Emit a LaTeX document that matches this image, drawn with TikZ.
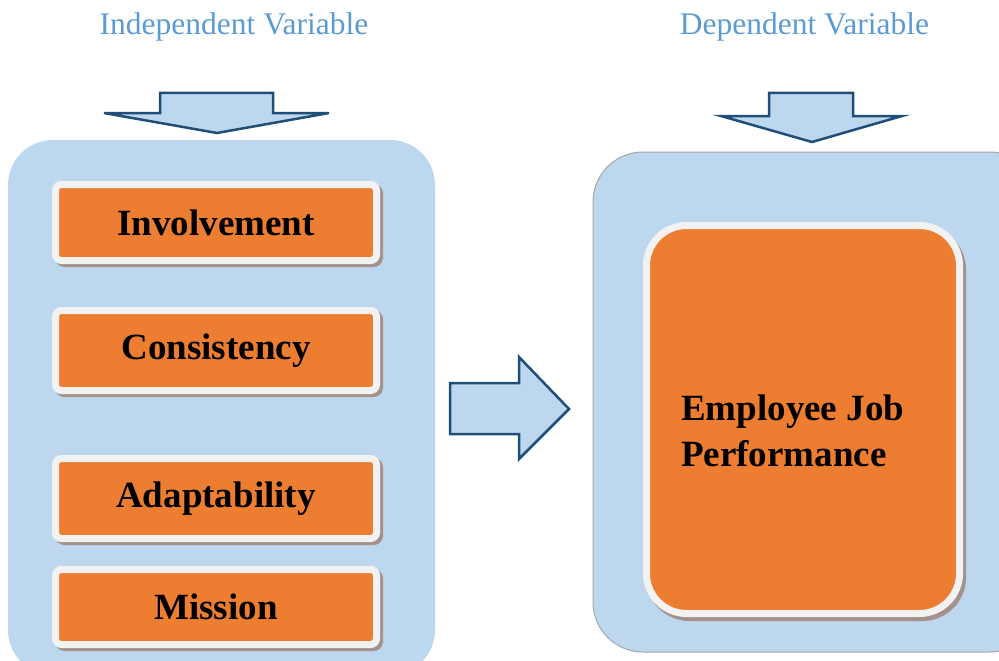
\documentclass[tikz,border=0pt]{standalone}
\usepackage{fontspec}
\setmainfont{Liberation Serif}
\usetikzlibrary{shadows}
\definecolor{panelc}{HTML}{BDD7EE}
\definecolor{orangec}{HTML}{ED7D31}
\definecolor{rimc}{HTML}{F2F2F2}
\definecolor{shadc}{HTML}{A3918A}
\definecolor{arrowc}{HTML}{1F4E79}
\definecolor{titlec}{HTML}{5B9BD5}
\definecolor{edgec}{HTML}{A6A6A6}
\tikzset{
  panel/.style={fill=panelc},
  obox/.style={fill=orangec, draw=rimc, line width=7pt, rounded corners=6pt,
    minimum width=321pt, inner sep=0pt,
    general shadow={shadow xshift=3pt, shadow yshift=-3pt, fill=shadc, draw=shadc},
    font=\fontsize{37}{44}\selectfont\bfseries},
  bigbox/.style={fill=orangec, draw=rimc, line width=7pt, rounded corners=40pt,
    minimum width=313pt, minimum height=388pt, inner sep=0pt,
    general shadow={shadow xshift=3pt, shadow yshift=-4pt, fill=shadc, draw=shadc}},
  blockarrow/.style={fill=panelc, draw=arrowc, line width=2.5pt, line join=miter},
  title/.style={text=titlec, font=\fontsize{31.5}{36}\selectfont},
}
\begin{document}
\begin{tikzpicture}[x=1pt,y=-1pt]
\useasboundingbox (0,0) rectangle (999,661);
\clip (0,0) rectangle (999,661);
% titles
\node[title] (tin) at (234,27) {Independent Variable};
\node[title] (tdep) at (804.5,27) {Dependent Variable};
% panels
\fill[panel, rounded corners=45pt] (8,140) rectangle (435,675);
\filldraw[panel, draw=edgec, line width=1pt, rounded corners=50pt] (593,152) rectangle (1040,652);
% block arrows
\draw[blockarrow] (160,93) -- (273,93) -- (273,113) -- (329,113) -- (217,133) -- (104,113) -- (160,113) -- cycle;
\draw[blockarrow] (769,93) -- (853,93) -- (853,116) -- (902,116) -- (812,142) -- (721,116) -- (769,116) -- cycle;
\draw[blockarrow] (450,383) -- (519,383) -- (519,357) -- (569,409) -- (519,459) -- (519,434) -- (450,434) -- cycle;
% left boxes
\node[obox, minimum height=76pt] (inv) at (216,222.5) {Involvement};
\node[obox, minimum height=80pt] (con) at (216,350.5) {Consistency};
\node[obox, minimum height=80pt] (ada) at (216,498.5) {Adaptability};
\node[obox, minimum height=75pt] (mis) at (216,607) {Mission};
% right box
\node[bigbox] (ejp) at (803,419.5) {};
\node[anchor=west, align=left, inner sep=0pt,
  font=\fontsize{37}{46}\selectfont\bfseries] (ejpt) at (681,431) {Employee Job\\Performance};
\end{tikzpicture}
\end{document}
